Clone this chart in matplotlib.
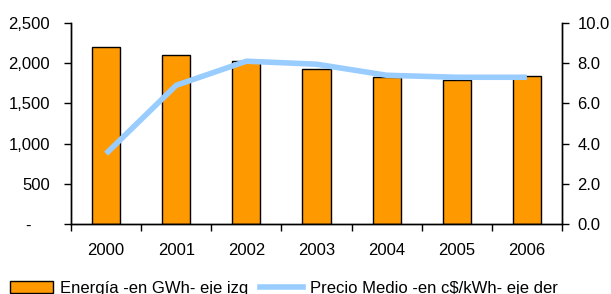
import matplotlib
matplotlib.use("Agg")
import matplotlib.pyplot as plt
from matplotlib.ticker import FixedLocator, FuncFormatter
from matplotlib.patches import Patch
from matplotlib.lines import Line2D

years = ["2000", "2001", "2002", "2003", "2004", "2005", "2006"]
energia = [2200, 2105, 2030, 1930, 1830, 1790, 1845]
precio = [3.5, 6.9, 8.1, 7.95, 7.4, 7.3, 7.3]
left_ticks = [0, 500, 1000, 1500, 2000, 2500]
right_ticks = [0, 2, 4, 6, 8, 10]
label_energia = "Energía -en GWh- eje izq"
label_precio = "Precio Medio -en c$/kWh- eje der"

plt.rcParams['font.family'] = ['Liberation Sans', 'DejaVu Sans']
plt.rcParams['font.size'] = 12

fig = plt.figure(figsize=(6.11, 2.94), dpi=100)
ax = fig.add_axes([71/611, 1-224/294, (562-71)/611, (224-23)/294])
ax2 = ax.twinx()

orange = "#FF9900"
blue = "#99CCFF"
x = list(range(len(years)))

ax.bar(x, energia, width=0.4, color=orange, edgecolor="black", linewidth=1, zorder=2)
ax2.plot(x, precio, color=blue, linewidth=4, solid_capstyle='butt', zorder=3)

ax.set_xlim(-0.5, len(years) - 0.5)
ax.set_ylim(0, 2500)
ax2.set_ylim(0, 10)

ax.set_xticks(x)
ax.set_xticklabels(years)
ax.xaxis.set_minor_locator(FixedLocator([i - 0.5 for i in range(len(years) + 1)]))
ax.tick_params(axis='x', which='major', length=0, pad=14)
ax.tick_params(axis='x', which='minor', length=5, direction='out', width=1)

ax.set_yticks(left_ticks)
ax.yaxis.set_major_formatter(FuncFormatter(lambda v, p: "-    " if v == 0 else f"{int(v):,}"))
ax.tick_params(axis='y', length=5, direction='out', width=1, pad=10)

ax2.set_yticks(right_ticks)
ax2.yaxis.set_major_formatter(FuncFormatter(lambda v, p: f"{v:.1f}"))
ax2.tick_params(axis='y', length=5, direction='out', width=1, pad=6)

for a in (ax, ax2):
    a.spines['top'].set_visible(False)
    for s in ('left', 'right', 'bottom'):
        a.spines[s].set_linewidth(1)
        a.spines[s].set_color('black')

handles = [Patch(facecolor=orange, edgecolor='black', linewidth=1),
           Line2D([0], [0], color=blue, linewidth=4)]
fig.legend(handles, [label_energia, label_precio], loc='lower left',
           bbox_to_anchor=(0.006, -0.028), ncol=2, frameon=False,
           handlelength=2.55, handleheight=0.7, handletextpad=0.45,
           columnspacing=0.7, borderaxespad=0)

fig.savefig("out.png", dpi=100)
